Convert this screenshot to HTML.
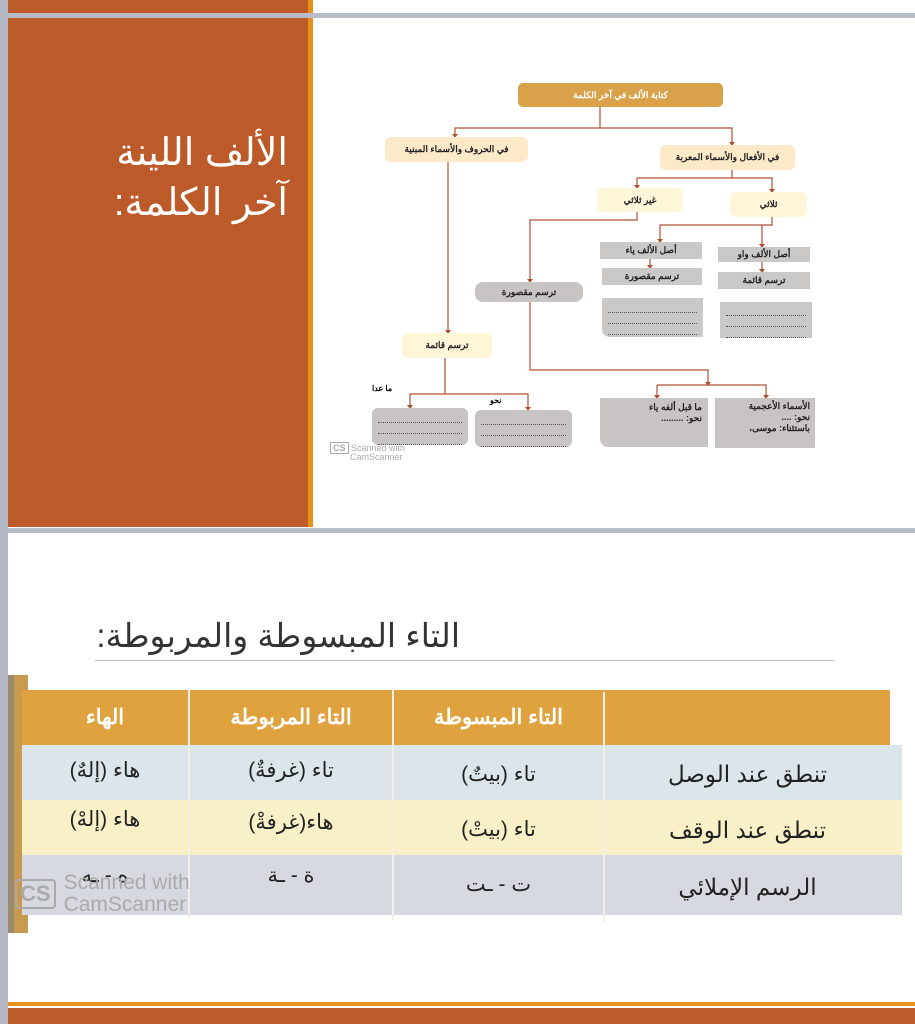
<!DOCTYPE html>
<html><head><meta charset="utf-8"><style>
body{margin:0;width:915px;height:1024px;position:relative;background:#fff;overflow:hidden;font-family:"Liberation Sans","Noto Sans CJK SC",sans-serif;}
.a{position:absolute;box-sizing:border-box;}
.b{position:absolute;box-sizing:border-box;display:flex;align-items:center;justify-content:center;font-size:9px;font-weight:bold;color:#222;direction:rtl;}
.c{position:absolute;box-sizing:border-box;display:flex;align-items:center;justify-content:center;direction:rtl;font-size:21px;color:#222;}
.dots{border-bottom:1px dotted #555;height:8px;margin:2px 6px;}
</style></head><body>
<div class="a" style="left:0;top:0;width:8px;height:1024px;background:#B4B8C4"></div>
<div class="a" style="left:8px;top:0;width:300px;height:527px;background:#BC5A2A"></div>
<div class="a" style="left:308px;top:0;width:5px;height:527px;background:#E8901A"></div>
<div class="a" style="left:8px;top:13px;width:907px;height:5px;background:#B8BCC8"></div>
<div class="a" style="left:8px;top:528px;width:907px;height:5px;background:#B8BCC8"></div>
<div class="a" style="left:20px;top:128px;width:268px;text-align:right;direction:rtl;color:#fff;font-size:38px;line-height:50px;">الألف اللينة<br>آخر الكلمة:</div>

<svg class="a" style="left:0;top:0" width="915" height="530">
<g stroke="#B05030" stroke-width="1.2" fill="none">
<path d="M600 107V128H455V137M600 128H732V145"/>
<path d="M732 170V178H637V188M732 178H772V192"/>
<path d="M772 217V225H660V242M660 225H762V247"/>
<path d="M650 259V268M762 262V272"/>
<path d="M637 212V220H530V282"/>
<path d="M448 162V333"/>
<path d="M530 302V370H708V385M657 385H766V398M657 385V398"/>
<path d="M445 358V394H410V408M445 394H528V410"/>
</g>
<g fill="#B05030">
<path d="M452 134h6l-3 4z M729 142h6l-3 4z M634 185h6l-3 4z M769 189h6l-3 4z M657 239h6l-3 4z M759 244h6l-3 4z M647 265h6l-3 4z M759 269h6l-3 4z M527 279h6l-3 4z M445 330h6l-3 4z M705 382h6l-3 4z M654 395h6l-3 4z M763 395h6l-3 4z M407 405h6l-3 4z M525 407h6l-3 4z"/>
</g>
</svg>
<div class="b" style="left:518px;top:83px;width:205px;height:24px;background:#D9A24A;border-radius:5px;color:#fff">كتابة الألف في آخر الكلمة</div>
<div class="b" style="left:385px;top:137px;width:143px;height:25px;background:#FBE9C8;border-radius:6px">في الحروف والأسماء المبنية</div>
<div class="b" style="left:660px;top:145px;width:135px;height:25px;background:#FBE9C8;border-radius:6px">في الأفعال والأسماء المعربة</div>
<div class="b" style="left:597px;top:188px;width:86px;height:24px;background:#FDF6D8;border-radius:6px">غير ثلاثي</div>
<div class="b" style="left:730px;top:192px;width:77px;height:25px;background:#FDF6D8;border-radius:6px">ثلاثي</div>
<div class="b" style="left:600px;top:242px;width:102px;height:17px;background:#CBC8C8">أصل الألف ياء</div>
<div class="b" style="left:718px;top:247px;width:92px;height:15px;background:#CBC8C8">أصل الألف واو</div>
<div class="b" style="left:602px;top:268px;width:100px;height:17px;background:#CBC8C8">ترسم مقصورة</div>
<div class="b" style="left:718px;top:272px;width:92px;height:17px;background:#CBC8C8">ترسم قائمة</div>
<div class="a" style="left:602px;top:298px;width:101px;height:39px;background:#CBC8C8;border-radius:0 0 0 8px;padding-top:4px"><div class="dots"></div><div class="dots"></div><div class="dots"></div></div>
<div class="a" style="left:720px;top:302px;width:92px;height:36px;background:#CBC8C8;padding-top:3px"><div class="dots"></div><div class="dots"></div><div class="dots"></div></div>
<div class="b" style="left:475px;top:282px;width:108px;height:20px;background:#C8C4C4;border-radius:8px">ترسم مقصورة</div>
<div class="b" style="left:402px;top:333px;width:90px;height:25px;background:#FDF6D8;border-radius:6px">ترسم قائمة</div>
<div class="a" style="left:372px;top:408px;width:96px;height:37px;background:#C8C4C4;border-radius:6px;padding-top:4px"><div class="dots"></div><div class="dots"></div><div class="dots"></div></div>
<div class="a" style="left:475px;top:410px;width:97px;height:37px;background:#C8C4C4;border-radius:6px;padding-top:4px"><div class="dots"></div><div class="dots"></div><div class="dots"></div></div>
<div class="a" style="left:600px;top:398px;width:108px;height:49px;background:#C8C4C4;border-radius:0 0 0 8px;font-size:9px;font-weight:bold;direction:rtl;text-align:right;padding:4px 6px;color:#222">ما قبل ألفه ياء<br>نحو: .........</div>
<div class="a" style="left:715px;top:398px;width:100px;height:50px;background:#C8C4C4;font-size:9px;font-weight:bold;direction:rtl;text-align:right;padding:3px 5px;color:#222;line-height:11px">الأسماء الأعجمية<br>نحو: ....<br>باستثناء: موسى،</div>
<div class="a" style="left:372px;top:384px;font-size:8px;font-weight:bold;direction:rtl">ما عدا</div>
<div class="a" style="left:490px;top:396px;font-size:8px;font-weight:bold;direction:rtl">نحو</div>
<div class="a" style="left:330px;top:444px;font-size:9px;color:#aaa;line-height:9px"><b style="border:1px solid #aaa;padding:0 2px">CS</b> Scanned with<br>&nbsp;&nbsp;&nbsp;&nbsp;&nbsp;&nbsp;&nbsp;&nbsp;CamScanner</div>

<div class="a" style="left:95px;top:616px;width:365px;text-align:right;direction:rtl;font-size:33px;color:#333;white-space:nowrap">التاء المبسوطة والمربوطة:</div>
<div class="a" style="left:95px;top:660px;width:740px;height:1px;background:#bbb"></div>

<div class="a" style="left:8px;top:675px;width:6px;height:258px;background:#9a8a70"></div>
<div class="a" style="left:14px;top:675px;width:14px;height:258px;background:#c89a50"></div>
<div class="a" style="left:22px;top:690px;width:868px;height:55px;background:#E0A23E"></div>
<div class="a" style="left:22px;top:745px;width:880px;height:55px;background:#DCE6EA"></div>
<div class="a" style="left:22px;top:800px;width:880px;height:55px;background:#FAF0C8"></div>
<div class="a" style="left:22px;top:855px;width:880px;height:60px;background:#D6DAE0"></div>
<div class="a" style="left:188px;top:688px;width:2px;height:230px;background:#f4f0e8"></div>
<div class="a" style="left:392px;top:690px;width:2px;height:230px;background:#f4f0e8"></div>
<div class="a" style="left:603px;top:692px;width:2px;height:230px;background:#f4f0e8"></div>
<div class="c" style="left:22px;top:695px;width:166px;height:45px;color:#fff;font-weight:bold">الهاء</div>
<div class="c" style="left:190px;top:695px;width:202px;height:45px;color:#fff;font-weight:bold">التاء المربوطة</div>
<div class="c" style="left:394px;top:695px;width:209px;height:45px;color:#fff;font-weight:bold">التاء المبسوطة</div>
<div class="c" style="left:22px;top:748px;width:166px;height:45px">هاء (إلهٌ)</div>
<div class="c" style="left:190px;top:748px;width:202px;height:45px">تاء (غرفةٌ)</div>
<div class="c" style="left:394px;top:752px;width:209px;height:45px">تاء (بيتٌ)</div>
<div class="c" style="left:605px;top:752px;width:285px;height:45px;font-size:23px">تنطق عند الوصل</div>
<div class="c" style="left:22px;top:797px;width:166px;height:45px">هاء (إلهْ)</div>
<div class="c" style="left:190px;top:800px;width:202px;height:45px">هاء(غرفةْ)</div>
<div class="c" style="left:394px;top:807px;width:209px;height:45px">تاء (بيتْ)</div>
<div class="c" style="left:605px;top:808px;width:285px;height:45px;font-size:23px">تنطق عند الوقف</div>
<div class="c" style="left:22px;top:855px;width:166px;height:40px">ه - ـه</div>
<div class="c" style="left:190px;top:855px;width:202px;height:40px">ة - ـة</div>
<div class="c" style="left:394px;top:862px;width:209px;height:45px">ت - ـت</div>
<div class="c" style="left:605px;top:865px;width:285px;height:45px;font-size:23px">الرسم الإملائي</div>
<div class="a" style="left:15px;top:872px;font-size:21px;color:#aaa;line-height:22px;display:flex;align-items:center"><b style="border:2px solid #aaa;border-radius:4px;padding:2px 3px;font-size:22px;margin-right:8px">CS</b><span>Scanned with<br>CamScanner</span></div>

<div class="a" style="left:8px;top:1002px;width:907px;height:4px;background:#E8901A"></div>
<div class="a" style="left:8px;top:1008px;width:907px;height:16px;background:#BC5A2A"></div>
</body></html>
